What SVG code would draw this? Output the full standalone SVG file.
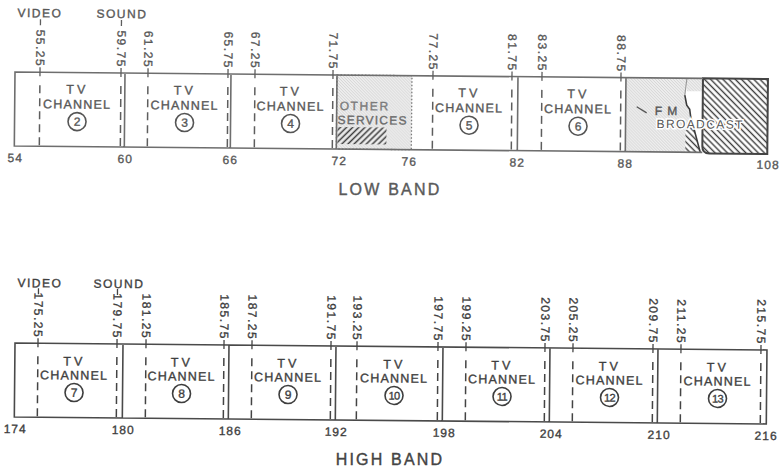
<svg xmlns="http://www.w3.org/2000/svg" width="782" height="470" viewBox="0 0 782 470">
<defs>
<pattern id="stip" patternUnits="userSpaceOnUse" width="3" height="3">
  <rect width="3" height="3" fill="#eeeeee"/>
  <path d="M0,0 L3,3 M-1,2 L1,4 M2,-1 L4,1" stroke="#c8c8c8" stroke-width="0.7"/>
</pattern>
<pattern id="hatchB" patternUnits="userSpaceOnUse" width="4.4" height="4.4" patternTransform="rotate(-45)">
  <rect width="4.4" height="4.4" fill="#ffffff"/>
  <line x1="2.2" y1="0" x2="2.2" y2="4.4" stroke="#3c3c3c" stroke-width="1.4"/>
</pattern>
<pattern id="hatchF" patternUnits="userSpaceOnUse" width="4.3" height="4.3" patternTransform="rotate(45)">
  <rect width="4.3" height="4.3" fill="#ececec"/>
  <line x1="2.15" y1="0" x2="2.15" y2="4.3" stroke="#3c3c3c" stroke-width="1.5"/>
</pattern>
<style>
  .t{font-family:"Liberation Sans",Arial,sans-serif;stroke-width:0.35px}
  .lo .t{fill:#575757;stroke:#575757}
  .hi .t{fill:#3e3e3e;stroke:#3e3e3e}
  .ln{fill:none;stroke-width:1.6}
  .lo .ln{stroke:#6e6e6e}
  .hi .ln{stroke:#4a4a4a}
  .tick{stroke-width:1.3}
  .dash{fill:none;stroke-width:1.5;stroke-dasharray:8 5}
  .lo .tick,.lo .dash{stroke:#5e5e5e}
  .hi .tick,.hi .dash{stroke:#444}
  .circ{fill:none;stroke-width:1.6}
  .lo .circ{stroke:#555}
  .hi .circ{stroke:#3e3e3e}
  .tv{font-size:12.5px;letter-spacing:3px;text-anchor:middle}
  .ch{font-size:12.5px;letter-spacing:1.2px;text-anchor:middle}
  .num{font-size:12px;text-anchor:middle}
  .num2{font-size:11px;letter-spacing:-0.6px;text-anchor:middle}
  .fr{font-size:12px;letter-spacing:1.5px;text-anchor:end}
  .ax{font-size:12px;letter-spacing:1px;text-anchor:middle}
  .lab{font-size:12px;letter-spacing:1.5px}
  .title{font-size:16px;letter-spacing:2.2px;text-anchor:middle}
</style>
</defs>
<rect width="782" height="470" fill="#ffffff"/>

<!-- LOW BAND -->
<g class="lo" transform="rotate(0.53 15 72)">
  <g id="other-services">
    <rect x="337" y="72" width="75" height="74" fill="url(#stip)"/>
    <rect x="338" y="124" width="49" height="17" fill="url(#hatchF)"/>
    <rect x="337" y="72" width="75" height="74" fill="none" stroke="#7a7a7a" stroke-width="1.3" stroke-dasharray="1.5 2"/>
    <text class="t" x="340" y="107" font-size="12" letter-spacing="1.6" style="fill:#7a7a7a;stroke:#7a7a7a">OTHER</text>
    <text class="t" x="338" y="121" font-size="12" letter-spacing="1.2" style="fill:#6a6a6a;stroke:#6a6a6a">SERVICES</text>
  </g>
  <g id="fm-broadcast">
    <polygon points="626,72 687,72 685,89 687,99 690,103 691,110 701,146 626,146" fill="url(#stip)"/>
    <rect x="687" y="72" width="16" height="13" fill="url(#stip)"/>
    <polygon points="686,121 692.5,116 701,146 686,146" fill="url(#hatchB)"/>
    <polyline points="685,89 687,99 690,103 691,110 701,146" fill="none" stroke="#3c3c3c" stroke-width="1.6"/>
    <line x1="687" y1="72" x2="685" y2="89" stroke="#9a9a9a" stroke-width="1.2"/>
    <path d="M703,72 H768 V147 H710 Q703,147 703,140 Z" fill="url(#hatchB)" stroke="#444" stroke-width="2"/>
    <line x1="637" y1="101" x2="647" y2="107" stroke="#555" stroke-width="1.3"/>
    <text class="t" x="655" y="109" font-size="12" letter-spacing="1">F M</text>
    <text class="t" x="657" y="122" font-size="12" letter-spacing="1.4" style="stroke:#ffffff;stroke-width:3px" paint-order="stroke">BROADCAST</text>
  </g>
  <g id="low-frame">
    <path class="ln" d="M703,72 H15 V146 H703 M125,72 V146 M231,72 V146 M337,72 V146 M518,72 V146 M626,72 V146"/>
  </g>
  <g id="low-markers">
    <line class="tick" x1="40" y1="67" x2="40" y2="76"/><line class="dash" x1="40" y1="85" x2="40" y2="145"/>
    <line class="tick" x1="121" y1="67" x2="121" y2="76"/><line class="dash" x1="121" y1="85" x2="121" y2="145"/>
    <line class="tick" x1="148" y1="67" x2="148" y2="76"/><line class="dash" x1="148" y1="85" x2="148" y2="145"/>
    <line class="tick" x1="228" y1="67" x2="228" y2="76"/><line class="dash" x1="228" y1="85" x2="228" y2="145"/>
    <line class="tick" x1="255" y1="67" x2="255" y2="76"/><line class="dash" x1="255" y1="85" x2="255" y2="145"/>
    <line class="tick" x1="333" y1="67" x2="333" y2="76"/><line class="dash" x1="333" y1="85" x2="333" y2="145"/>
    <line class="tick" x1="433" y1="67" x2="433" y2="76"/><line class="dash" x1="433" y1="85" x2="433" y2="145"/>
    <line class="tick" x1="512" y1="67" x2="512" y2="76"/><line class="dash" x1="512" y1="85" x2="512" y2="145"/>
    <line class="tick" x1="542" y1="67" x2="542" y2="76"/><line class="dash" x1="542" y1="85" x2="542" y2="145"/>
    <line class="tick" x1="621" y1="67" x2="621" y2="76"/><line class="dash" x1="621" y1="85" x2="621" y2="145"/>
    <line class="tick" x1="40" y1="19" x2="40" y2="25"/>
    <line class="tick" x1="121" y1="19" x2="121" y2="25"/>
  </g>
  <g id="low-labels">
    <text class="t lab" x="17" y="17">VIDEO</text>
    <text class="t lab" x="96" y="17">SOUND</text>
    <text class="t fr" transform="translate(40,67) rotate(90)" y="4">55.25</text>
    <text class="t fr" transform="translate(121,67) rotate(90)" y="4">59.75</text>
    <text class="t fr" transform="translate(148,67) rotate(90)" y="4">61.25</text>
    <text class="t fr" transform="translate(228,67) rotate(90)" y="4">65.75</text>
    <text class="t fr" transform="translate(255,67) rotate(90)" y="4">67.25</text>
    <text class="t fr" transform="translate(333,67) rotate(90)" y="4">71.75</text>
    <text class="t fr" transform="translate(433,67) rotate(90)" y="4">77.25</text>
    <text class="t fr" transform="translate(512,67) rotate(90)" y="4">81.75</text>
    <text class="t fr" transform="translate(542,67) rotate(90)" y="4">83.25</text>
    <text class="t fr" transform="translate(621,67) rotate(90)" y="4">88.75</text>
    <text class="t ax" x="16" y="162">54</text>
    <text class="t ax" x="126" y="162">60</text>
    <text class="t ax" x="231" y="162">66</text>
    <text class="t ax" x="340" y="162">72</text>
    <text class="t ax" x="410" y="162">76</text>
    <text class="t ax" x="518" y="162">82</text>
    <text class="t ax" x="626" y="162">88</text>
    <text class="t ax" x="769" y="162">108</text>
  </g>
  <g id="ch2"><text class="t tv" x="77.5" y="93">TV</text><text class="t ch" x="77.5" y="108">CHANNEL</text><circle class="circ" cx="77.5" cy="121" r="9"/><text class="t num" x="77.5" y="125.3">2</text></g>
  <g id="ch3"><text class="t tv" x="185" y="93">TV</text><text class="t ch" x="185" y="108">CHANNEL</text><circle class="circ" cx="185" cy="121" r="9"/><text class="t num" x="185" y="125.3">3</text></g>
  <g id="ch4"><text class="t tv" x="291" y="93">TV</text><text class="t ch" x="291" y="108">CHANNEL</text><circle class="circ" cx="291" cy="121" r="9"/><text class="t num" x="291" y="125.3">4</text></g>
  <g id="ch5"><text class="t tv" x="469.5" y="93">TV</text><text class="t ch" x="469.5" y="108">CHANNEL</text><circle class="circ" cx="469.5" cy="121" r="9"/><text class="t num" x="469.5" y="125.3">5</text></g>
  <g id="ch6"><text class="t tv" x="578.5" y="93">TV</text><text class="t ch" x="578.5" y="108">CHANNEL</text><circle class="circ" cx="578.5" cy="121" r="9"/><text class="t num" x="578.5" y="125.3">6</text></g>
</g>
<text class="t title" x="390" y="195" style="fill:#5a5a5a;stroke:#5a5a5a;stroke-width:0.4px">LOW BAND</text>

<!-- HIGH BAND -->
<g class="hi" transform="rotate(0.53 15 343)">
  <g id="high-frame">
    <path class="ln" d="M15,343 H767 V417 H15 Z M123,343 V417 M229,343 V417 M336,343 V417 M443,343 V417 M550,343 V417 M658,343 V417"/>
  </g>
  <g id="high-markers">
    <line class="tick" x1="38" y1="338" x2="38" y2="347"/><line class="dash" x1="38" y1="356" x2="38" y2="416"/>
    <line class="tick" x1="117" y1="338" x2="117" y2="347"/><line class="dash" x1="117" y1="356" x2="117" y2="416"/>
    <line class="tick" x1="146" y1="338" x2="146" y2="347"/><line class="dash" x1="146" y1="356" x2="146" y2="416"/>
    <line class="tick" x1="224" y1="338" x2="224" y2="347"/><line class="dash" x1="224" y1="356" x2="224" y2="416"/>
    <line class="tick" x1="252" y1="338" x2="252" y2="347"/><line class="dash" x1="252" y1="356" x2="252" y2="416"/>
    <line class="tick" x1="331" y1="338" x2="331" y2="347"/><line class="dash" x1="331" y1="356" x2="331" y2="416"/>
    <line class="tick" x1="357" y1="338" x2="357" y2="347"/><line class="dash" x1="357" y1="356" x2="357" y2="416"/>
    <line class="tick" x1="438" y1="338" x2="438" y2="347"/><line class="dash" x1="438" y1="356" x2="438" y2="416"/>
    <line class="tick" x1="466" y1="338" x2="466" y2="347"/><line class="dash" x1="466" y1="356" x2="466" y2="416"/>
    <line class="tick" x1="545" y1="338" x2="545" y2="347"/><line class="dash" x1="545" y1="356" x2="545" y2="416"/>
    <line class="tick" x1="573" y1="338" x2="573" y2="347"/><line class="dash" x1="573" y1="356" x2="573" y2="416"/>
    <line class="tick" x1="653" y1="338" x2="653" y2="347"/><line class="dash" x1="653" y1="356" x2="653" y2="416"/>
    <line class="tick" x1="681" y1="338" x2="681" y2="347"/><line class="dash" x1="681" y1="356" x2="681" y2="416"/>
    <line class="tick" x1="761" y1="338" x2="761" y2="347"/><line class="dash" x1="761" y1="356" x2="761" y2="416"/>
    <line class="tick" x1="38" y1="288" x2="38" y2="294"/>
    <line class="tick" x1="117" y1="288" x2="117" y2="294"/>
  </g>
  <g id="high-labels">
    <text class="t lab" x="17" y="287">VIDEO</text>
    <text class="t lab" x="93" y="287">SOUND</text>
    <text class="t fr" transform="translate(38,338) rotate(90)" y="4">175.25</text>
    <text class="t fr" transform="translate(117,338) rotate(90)" y="4">179.75</text>
    <text class="t fr" transform="translate(146,338) rotate(90)" y="4">181.25</text>
    <text class="t fr" transform="translate(224,338) rotate(90)" y="4">185.75</text>
    <text class="t fr" transform="translate(252,338) rotate(90)" y="4">187.25</text>
    <text class="t fr" transform="translate(331,338) rotate(90)" y="4">191.75</text>
    <text class="t fr" transform="translate(357,338) rotate(90)" y="4">193.25</text>
    <text class="t fr" transform="translate(438,338) rotate(90)" y="4">197.75</text>
    <text class="t fr" transform="translate(466,338) rotate(90)" y="4">199.25</text>
    <text class="t fr" transform="translate(545,338) rotate(90)" y="4">203.75</text>
    <text class="t fr" transform="translate(573,338) rotate(90)" y="4">205.25</text>
    <text class="t fr" transform="translate(653,338) rotate(90)" y="4">209.75</text>
    <text class="t fr" transform="translate(681,338) rotate(90)" y="4">211.25</text>
    <text class="t fr" transform="translate(761,338) rotate(90)" y="4">215.75</text>
    <text class="t ax" x="16" y="433">174</text>
    <text class="t ax" x="124" y="433">180</text>
    <text class="t ax" x="231" y="433">186</text>
    <text class="t ax" x="337" y="433">192</text>
    <text class="t ax" x="445" y="433">198</text>
    <text class="t ax" x="552" y="433">204</text>
    <text class="t ax" x="660" y="433">210</text>
    <text class="t ax" x="767" y="433">216</text>
  </g>
  <g id="ch7"><text class="t tv" x="74.5" y="365">TV</text><text class="t ch" x="74.5" y="379">CHANNEL</text><circle class="circ" cx="74.5" cy="392" r="9"/><text class="t num" x="74.5" y="396.3">7</text></g>
  <g id="ch8"><text class="t tv" x="182" y="365">TV</text><text class="t ch" x="182" y="379">CHANNEL</text><circle class="circ" cx="182" cy="392" r="9"/><text class="t num" x="182" y="396.3">8</text></g>
  <g id="ch9"><text class="t tv" x="288.5" y="365">TV</text><text class="t ch" x="288.5" y="379">CHANNEL</text><circle class="circ" cx="288.5" cy="392" r="9"/><text class="t num" x="288.5" y="396.3">9</text></g>
  <g id="ch10"><text class="t tv" x="394.5" y="365">TV</text><text class="t ch" x="394.5" y="379">CHANNEL</text><circle class="circ" cx="394.5" cy="392" r="9"/><text class="t num2" x="394.5" y="396">10</text></g>
  <g id="ch11"><text class="t tv" x="502.5" y="365">TV</text><text class="t ch" x="502.5" y="379">CHANNEL</text><circle class="circ" cx="502.5" cy="392" r="9"/><text class="t num2" x="502.5" y="396">11</text></g>
  <g id="ch12"><text class="t tv" x="610" y="365">TV</text><text class="t ch" x="610" y="379">CHANNEL</text><circle class="circ" cx="610" cy="392" r="9"/><text class="t num2" x="610" y="396">12</text></g>
  <g id="ch13"><text class="t tv" x="718" y="365">TV</text><text class="t ch" x="718" y="379">CHANNEL</text><circle class="circ" cx="718" cy="392" r="9"/><text class="t num2" x="718" y="396">13</text></g>
</g>
<text class="t title" x="390" y="465" style="fill:#444;stroke:#444;stroke-width:0.4px">HIGH BAND</text>
</svg>
